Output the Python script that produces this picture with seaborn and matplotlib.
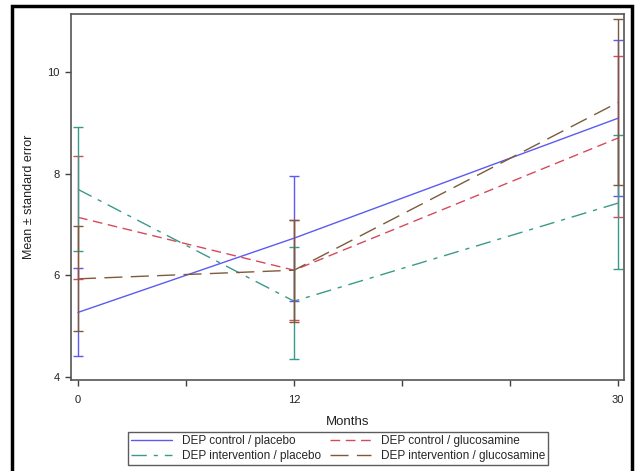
import numpy as np
import pandas as pd
import matplotlib
matplotlib.use("Agg")
import matplotlib.pyplot as plt
import matplotlib.patches as mpatches
from matplotlib.lines import Line2D
import seaborn as sns

# ---- Data ----
MONTHS = [0, 12, 30]
GROUPS = [
    "DEP control / placebo",
    "DEP control / glucosamine",
    "DEP intervention / placebo",
    "DEP intervention / glucosamine",
]
ctrl_placebo_mean = [5.27, 6.73, 9.09]
ctrl_placebo_lo = [4.41, 5.50, 7.56]
ctrl_placebo_hi = [6.14, 7.96, 10.62]

ctrl_gluc_mean = [7.14, 6.10, 8.70]
ctrl_gluc_lo = [5.93, 5.12, 7.14]
ctrl_gluc_hi = [8.35, 7.08, 10.31]

int_placebo_mean = [7.69, 5.49, 7.42]
int_placebo_lo = [6.47, 4.35, 6.12]
int_placebo_hi = [8.91, 6.55, 8.75]

int_gluc_mean = [5.93, 6.10, 9.40]
int_gluc_lo = [4.90, 5.08, 7.77]
int_gluc_hi = [6.96, 7.09, 11.04]

# ---- Styling ----
COLORS = {
    GROUPS[0]: "#5b5bf2",
    GROUPS[1]: "#d64a5a",
    GROUPS[2]: "#3a9a8a",
    GROUPS[3]: "#7d5b3a",
}
DASHES = {
    GROUPS[0]: "",
    GROUPS[1]: (7, 4),
    GROUPS[2]: (11, 5, 3, 5),
    GROUPS[3]: (13, 6),
}

sns.set_theme(style="ticks")
plt.rcParams["font.family"] = ["Liberation Sans", "DejaVu Sans"]

means = [ctrl_placebo_mean, ctrl_gluc_mean, int_placebo_mean, int_gluc_mean]
lows = [ctrl_placebo_lo, ctrl_gluc_lo, int_placebo_lo, int_gluc_lo]
highs = [ctrl_placebo_hi, ctrl_gluc_hi, int_placebo_hi, int_gluc_hi]

rows = []
for g, m in zip(GROUPS, means):
    for month, val in zip(MONTHS, m):
        rows.append({"Months": month, "value": val, "group": g})
df = pd.DataFrame(rows)

fig = plt.figure(figsize=(6.39, 4.71), dpi=100)
ax = fig.add_axes([71 / 639, 1 - 380 / 471, (624 - 71) / 639, (380 - 14) / 471])

sns.lineplot(
    data=df, x="Months", y="value", hue="group", style="group",
    hue_order=GROUPS, style_order=GROUPS,
    palette=COLORS, dashes=DASHES, lw=1.0, ax=ax, legend=False,
)

# error bars
for g, m, lo, hi in zip(GROUPS, means, lows, highs):
    m = np.array(m)
    yerr = np.vstack([m - np.array(lo), np.array(hi) - m])
    ax.errorbar(MONTHS, m, yerr=yerr, fmt="none", ecolor=COLORS[g],
                elinewidth=1.0, capsize=3.8, capthick=1.0)

ax.set_xlim(-0.39, 30.33)
ax.set_ylim(3.94, 11.14)
ax.set_xticks([0, 6, 12, 18, 24, 30])
ax.set_xticklabels(["0", "", "12", "", "", "30"])
ax.set_yticks([4, 6, 8, 10])
ax.tick_params(axis="both", direction="out", length=4, width=1.0,
               color="#404040", labelsize=8, labelcolor="#222222")
ax.tick_params(axis="x", pad=7)
ax.tick_params(axis="y", pad=4)
for sp in ax.spines.values():
    sp.set_visible(True)
    sp.set_color("#555555")
    sp.set_linewidth(1.2)

ax.set_xlabel("Months", fontsize=9.5, color="#222222", labelpad=8)
ax.set_ylabel("Mean \u00b1 standard error", fontsize=9, color="#222222", labelpad=9)

handles = [Line2D([], [], color=COLORS[g], lw=1.0,
                  dashes=DASHES[g] if DASHES[g] else (None, None)) for g in GROUPS]
# order so that columns read: placebo / glucosamine
leg = fig.legend(
    [handles[0], handles[2], handles[1], handles[3]],
    [GROUPS[0], GROUPS[2], GROUPS[1], GROUPS[3]],
    ncol=2, loc="center", bbox_to_anchor=(338 / 639, 1 - 448.5 / 471),
    fontsize=8.5, frameon=True, fancybox=False, handlelength=3.5,
    columnspacing=0.8, handletextpad=0.8, labelspacing=0.25,
    borderpad=0.25, edgecolor="#333333",
)
leg.get_frame().set_linewidth(1.0)

# outer frame
frame = mpatches.Rectangle((12 / 639, -0.05), (632 - 12) / 639, 1.05 - 6 / 471,
                           transform=fig.transFigure, fill=False,
                           edgecolor="black", lw=2.5, clip_on=False)
fig.patches.append(frame)

fig.savefig("out.png", dpi=100)
